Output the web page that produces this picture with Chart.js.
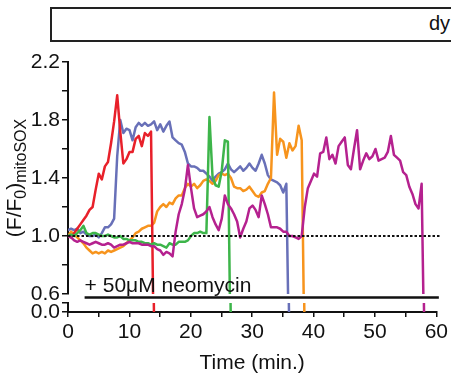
<!DOCTYPE html>
<html>
<head>
<meta charset="UTF-8">
<title>mitoSOX neomycin</title>
<script src="https://cdn.jsdelivr.net/npm/chart.js@4.4.0/dist/chart.umd.min.js"></script>
<style>
  html, body { margin: 0; padding: 0; background: #fff; }
  body { position: relative; width: 451px; height: 374px; overflow: hidden; font-family: "Liberation Sans", Arial, sans-serif; }
  #topbox { position: absolute; left: 50px; top: 7px; width: 460px; height: 31px; border: 2px solid #222; }
  #topbox span { position: absolute; left: 377px; top: 3px; font-size: 20px; color: #111; }
  canvas { position: absolute; left: 0; }
  #main { top: 0; }
  #floor { top: 288px; }
</style>
</head>
<body>
<div id="topbox"><span>dy</span></div>
<canvas id="main" width="451" height="320"></canvas>
<canvas id="floor" width="451" height="86"></canvas>
<script>
// time between frames, minutes
const STEP = 0.5;

// F/F0 per cell, one value every STEP minutes; the last 0 is where the cell is lost
const red = [1.00,0.99,1.02,1.05,1.08,1.11,1.14,1.18,1.20,1.32,
  1.43,1.39,1.48,1.51,1.64,1.79,1.97,1.72,1.50,1.53,
  1.58,1.58,1.67,1.69,1.62,1.71,1.69,1.72,0];

const blue = [1.04,1.05,1.04,1.05,1.02,1.03,1.01,1.00,1.00,1.01,
  0.99,1.02,1.06,1.06,1.08,1.12,1.55,1.80,1.71,1.74,
  1.73,1.66,1.75,1.78,1.76,1.78,1.76,1.77,1.79,1.73,
  1.77,1.72,1.76,1.79,1.68,1.66,1.64,1.63,1.58,1.50,
  1.48,1.48,1.47,1.45,1.45,1.43,1.41,1.38,1.41,1.43,
  1.44,1.46,1.50,1.46,1.44,1.46,1.48,1.45,1.47,1.50,
  1.47,1.45,1.50,1.56,1.50,1.42,1.39,1.38,1.37,1.35,
  1.30,1.36,0];

const green = [1.00,1.01,1.00,1.02,1.04,1.07,1.02,1.01,1.02,1.02,
  1.01,1.00,1.00,1.01,1.00,0.99,0.99,1.00,0.98,0.98,
  0.97,0.97,0.97,0.96,0.96,0.95,0.95,0.94,0.95,0.94,
  0.94,0.93,0.92,0.95,0.94,0.94,0.96,0.96,0.96,0.97,
  1.00,1.02,1.02,1.03,1.02,1.02,1.82,1.41,1.35,1.34,
  1.45,1.66,1.65,0];

const orange = [1.00,1.03,1.01,0.99,0.97,0.95,0.92,0.90,0.88,0.89,
  0.88,0.89,0.88,0.90,0.89,0.90,0.91,0.92,0.93,0.95,
  0.97,0.99,1.02,1.03,1.05,1.06,1.07,1.07,1.09,1.17,
  1.20,1.22,1.20,1.23,1.22,1.26,1.28,1.28,1.33,1.36,
  1.34,1.36,1.33,1.35,1.38,1.39,1.38,1.36,1.38,1.42,
  1.43,1.42,1.43,1.40,1.34,1.33,1.33,1.31,1.32,1.34,
  1.31,1.28,1.27,1.30,1.31,1.36,1.40,1.99,1.56,1.67,
  1.65,1.54,1.64,1.59,1.62,1.76,1.66,0];

const purple = [1.00,0.99,0.97,0.96,0.97,0.96,0.95,0.94,0.95,0.96,
  0.95,0.94,0.94,0.95,0.94,0.92,0.93,0.94,0.94,0.95,
  0.96,0.95,0.95,0.95,0.94,0.94,0.94,0.93,0.93,0.91,
  0.90,0.87,0.89,0.88,0.86,1.03,1.15,1.22,1.32,1.49,
  1.33,1.19,1.13,1.14,1.15,1.17,1.20,1.13,1.08,1.04,
  1.12,1.28,1.22,1.19,1.15,1.10,0.99,1.05,1.10,1.19,
  1.21,1.18,1.13,1.28,1.22,1.15,1.06,1.06,1.06,1.05,
  1.03,1.03,1.00,1.00,0.99,0.98,1.00,1.20,1.33,1.38,
  1.43,1.41,1.57,1.58,1.68,1.53,1.56,1.50,1.62,1.65,
  1.68,1.49,1.46,1.60,1.73,1.46,1.52,1.57,1.53,1.55,
  1.60,1.52,1.53,1.54,1.58,1.69,1.56,1.54,1.52,1.44,
  1.42,1.34,1.29,1.22,1.19,1.36,0];

const yTicksMain = [0.6, 1.0, 1.4, 1.8, 2.2];
const xTickLabels = [0, 10, 20, 30, 40, 50, 60];
const baseline = 1.0;
const neoStart = 2.7, neoEnd = 60.3;
const neoLabel = '+ 50\u03bcM neomycin';

const FONT = '"Liberation Sans", Arial, sans-serif';
const INK = '#111';

const cells = [
  { values: purple, color: '#b5218f' },
  { values: green, color: '#3db54a' },
  { values: red, color: '#e8202a' },
  { values: orange, color: '#f7941d' },
  { values: blue, color: '#6870b8' }
];

function makeSets() {
  return cells.map(c => ({
    data: c.values.map((v, i) => ({ x: i * STEP, y: v })),
    borderColor: c.color,
    borderWidth: 2.5,
    pointRadius: 0,
    tension: 0,
    borderJoinStyle: 'round'
  }));
}

const yTickLabel = v => {
  const hit = yTicksMain.find(t => Math.abs(t - v) < 1e-6);
  return hit !== undefined ? hit.toFixed(1) : '';
};

const overlay = {
  id: 'overlay',
  afterDatasetsDraw(chart) {
    const { ctx, chartArea, scales } = chart;
    const yb = scales.y.getPixelForValue(baseline);
    ctx.save();
    ctx.strokeStyle = INK;
    ctx.lineWidth = 2;
    ctx.setLineDash([2.5, 2]);
    ctx.beginPath();
    ctx.moveTo(chartArea.left, yb);
    ctx.lineTo(chartArea.right + 3, yb);
    ctx.stroke();
    ctx.restore();
  },
  afterDraw(chart) {
    const { ctx, chartArea, scales } = chart;
    ctx.save();
    // neomycin bar under the main panel
    const x0 = scales.x.getPixelForValue(neoStart);
    const x1 = scales.x.getPixelForValue(neoEnd);
    ctx.fillStyle = INK;
    ctx.font = '21px ' + FONT;
    ctx.textBaseline = 'alphabetic';
    ctx.fillText(neoLabel, x0, chartArea.bottom - 2);
    ctx.strokeStyle = INK;
    ctx.lineWidth = 2.5;
    ctx.beginPath();
    ctx.moveTo(x0, chartArea.bottom + 3.5);
    ctx.lineTo(x1, chartArea.bottom + 3.5);
    ctx.stroke();

    // y title (F/F0)mitoSOX with subscripts
    const parts = [
      { t: '(F/F', s: 21, d: 0 },
      { t: '0', s: 16, d: 5 },
      { t: ')', s: 21, d: 0 },
      { t: 'mitoSOX', s: 16, d: 5 }
    ];
    let total = 0;
    parts.forEach(p => { ctx.font = p.s + 'px ' + FONT; p.w = ctx.measureText(p.t).width; total += p.w; });
    ctx.translate(21, 178);
    ctx.rotate(-Math.PI / 2);
    let x = -total / 2;
    parts.forEach(p => {
      ctx.font = p.s + 'px ' + FONT;
      ctx.fillText(p.t, x, p.d);
      x += p.w;
    });
    ctx.restore();
  }
};

const tickFont = { size: 21, family: FONT };

new Chart(document.getElementById('main'), {
  type: 'line',
  data: { datasets: makeSets() },
  options: {
    responsive: false,
    animation: false,
    events: [],
    layout: { padding: { left: 0, right: 14, top: 62, bottom: 26 } },
    plugins: { legend: { display: false }, tooltip: { enabled: false } },
    scales: {
      x: { type: 'linear', min: 0, max: 60, display: false },
      y: {
        min: 0.6, max: 2.2,
        afterFit(s) { s.width = 68; },
        border: { color: INK, width: 2 },
        grid: { drawOnChartArea: false, color: INK, lineWidth: 1.5, tickLength: 6 },
        ticks: { stepSize: 0.2, autoSkip: false, padding: 2, color: INK, font: tickFont, callback: yTickLabel }
      }
    }
  },
  plugins: [overlay]
});

new Chart(document.getElementById('floor'), {
  type: 'line',
  data: { datasets: makeSets() },
  options: {
    responsive: false,
    animation: false,
    events: [],
    layout: { padding: { left: 0, right: 14, top: 15, bottom: 0 } },
    plugins: { legend: { display: false }, tooltip: { enabled: false } },
    scales: {
      x: {
        type: 'linear', min: 0, max: 60,
        afterFit(s) { s.height = 62; },
        border: { color: INK, width: 2 },
        grid: { drawOnChartArea: false, color: INK, lineWidth: 1.5, tickLength: 5 },
        ticks: {
          stepSize: 5, autoSkip: false, maxRotation: 0, color: INK, font: tickFont,
          callback: v => xTickLabels.includes(v) ? String(v) : ''
        },
        title: { display: true, text: 'Time (min.)', color: INK, font: { size: 21, family: FONT, lineHeight: 1.05 }, padding: 0 }
      },
      y: {
        min: 0, max: 0.06,
        afterFit(s) { s.width = 68; },
        border: { color: INK, width: 2 },
        grid: { drawOnChartArea: false, color: INK, lineWidth: 1.5, tickLength: 6 },
        ticks: { stepSize: 0.06, autoSkip: false, padding: 2, color: INK, font: tickFont, callback: v => v === 0 ? '0.0' : '' }
      }
    }
  }
});
</script>
</body>
</html>
